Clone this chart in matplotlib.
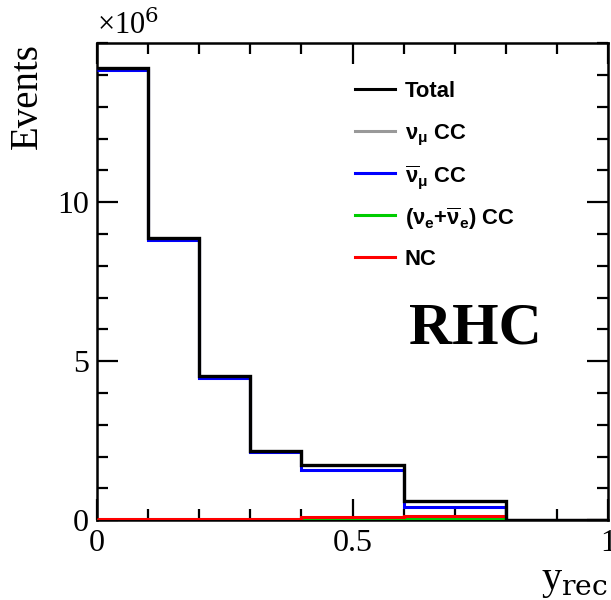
"""
RHC event distribution in reconstructed inelasticity, split by interaction type.
"""

import matplotlib

matplotlib.use("Agg")
import matplotlib.pyplot as plt
from matplotlib.ticker import FixedLocator, MultipleLocator

# bin edges in y_rec and per-bin event counts (units of 1e6)
BIN_EDGES = [0.0, 0.1, 0.2, 0.3, 0.4, 0.6, 0.8, 1.0]
TOTAL = [14.22, 8.87, 4.53, 2.19, 1.73, 0.60, 0.02]
NUMU_CC = [0.0, 0.0, 0.0, 0.0, 0.0, 0.0, 0.0]
NUMUBAR_CC = [14.17, 8.82, 4.48, 2.14, 1.59, 0.43, 0.01]
NUE_CC = [0.01, 0.01, 0.01, 0.01, 0.04, 0.04, 0.0]
NC = [0.04, 0.04, 0.04, 0.04, 0.11, 0.12, 0.01]

SERIES_LABELS = [
    "Total",
    r"$\nu_{\mu}$ CC",
    r"$\overline{\nu}_{\mu}$ CC",
    r"($\nu_{e}$+$\overline{\nu}_{e}$) CC",
    "NC",
]
SERIES_COLORS = ["black", "#999999", "#0000ff", "#00cc00", "#ff0000"]

plt.rcParams["font.family"] = ["Liberation Serif", "DejaVu Serif"]
plt.rcParams["mathtext.fontset"] = "custom"
plt.rcParams["mathtext.rm"] = "Liberation Sans:bold"
plt.rcParams["mathtext.it"] = "Liberation Sans:bold"
plt.rcParams["mathtext.bf"] = "Liberation Sans:bold"

figure = plt.figure(figsize=(6.11, 6.0), dpi=100)
axis = figure.add_axes([0.159, 0.133, 0.836, 0.795])

components = [NUMU_CC, NUMUBAR_CC, NUE_CC, NC]
for values, color in zip(components, SERIES_COLORS[1:]):
    axis.stairs(values, BIN_EDGES, color=color, linewidth=2.2, baseline=None, zorder=3)
axis.stairs(TOTAL, BIN_EDGES, color="black", linewidth=2.4, baseline=None, zorder=4)

axis.set_xlim(0.0, 1.0)
axis.set_ylim(0.0, 15.0)
axis.xaxis.set_major_locator(MultipleLocator(0.5))
axis.xaxis.set_minor_locator(MultipleLocator(0.1))
axis.yaxis.set_major_locator(FixedLocator([0, 5, 10]))
axis.yaxis.set_minor_locator(MultipleLocator(1))
axis.xaxis.set_major_formatter(matplotlib.ticker.FuncFormatter(lambda v, _: f"{v:g}"))
axis.tick_params(which="both", direction="in", top=True, right=True, width=1.6, labelsize=23)
axis.tick_params(which="major", length=15, pad=6)
axis.tick_params(which="minor", length=8)
for spine in axis.spines.values():
    spine.set_linewidth(1.8)

axis.set_ylabel("Events", fontsize=28, loc="top", labelpad=8)
axis.text(1.0, -0.09, "y$_{\\mathrm{rec}}$", transform=axis.transAxes, ha="right", va="top",
          fontsize=29, math_fontfamily="dejavuserif")
axis.text(0.0, 1.005, "×10$^{6}$", transform=axis.transAxes, ha="left", va="bottom",
          fontsize=22, math_fontfamily="dejavuserif")
axis.text(0.61, 0.4, "RHC", transform=axis.transAxes, ha="left", va="center",
          fontsize=43, fontweight="bold")

# legend drawn by hand so every row sits on the same 42 px pitch
for row, (label, color) in enumerate(zip(SERIES_LABELS, SERIES_COLORS)):
    y_frac = 1 - (89 + 42 * row) / 600
    figure.add_artist(matplotlib.lines.Line2D(
        [355 / 611, 395 / 611], [y_frac, y_frac], color=color, linewidth=2.2,
        transform=figure.transFigure))
    figure.text(405 / 611, y_frac, label, ha="left", va="center_baseline",
                family="Liberation Sans", weight="bold", size=15.8)

figure.savefig("out.png", dpi=100)
plt.close(figure)
